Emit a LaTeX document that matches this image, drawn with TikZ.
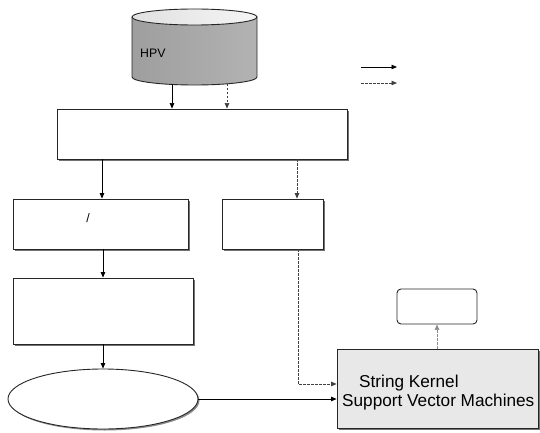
\documentclass[tikz,border=0pt]{standalone}
\usepackage{fontspec}
\setmainfont{Liberation Sans}
\usetikzlibrary{arrows.meta,shadows,shapes.geometric}

\tikzset{
  boxshadow/.style={drop shadow={shadow xshift=2pt,shadow yshift=-2pt,fill=black!55,opacity=1}},
  procbox/.style={draw=black!85,line width=0.9pt,fill=white,rectangle,inner sep=0pt,boxshadow},
  ovalbox/.style={draw=black!85,line width=0.9pt,fill=white,ellipse,inner sep=0pt,
    drop shadow={shadow xshift=1.5pt,shadow yshift=-1.5pt,fill=black!45,opacity=1}},
  resultbox/.style={draw=black!85,line width=0.9pt,fill=white,rectangle,rounded corners=4pt,inner sep=0pt},
  classbox/.style={draw=black!85,line width=0.9pt,fill=black!9,rectangle,inner sep=0pt,boxshadow},
  tip/.style={-{Triangle[length=5.5pt,width=4.5pt]}},
  flow/.style={tip,draw=black,line width=0.7pt},
  dflow/.style={tip,draw=black!75,line width=0.7pt,dash pattern=on 2.5pt off 1.5pt},
  lflow/.style={tip,draw=black!45,line width=0.7pt,dash pattern=on 2.5pt off 1.5pt},
  txt/.style={inner sep=0pt,font=\fontsize{12.3}{14}\selectfont},
  bigtxt/.style={inner sep=0pt,font=\fontsize{17.2}{19}\selectfont},
}

\begin{document}
\begin{tikzpicture}[x=1pt,y=-1pt]
\useasboundingbox (0,0) rectangle (540,433);

% database cylinder
\shade[left color=black!38,middle color=black!8,right color=black!30]
  (132,17) -- (132,77) arc[start angle=180,end angle=360,x radius=62.5pt,y radius=8pt]
  -- (257,17) arc[start angle=0,end angle=180,x radius=62.5pt,y radius=8pt] -- cycle;
\draw[black!85,line width=0.9pt]
  (132,17) -- (132,77) arc[start angle=180,end angle=360,x radius=62.5pt,y radius=8pt]
  -- (257,17);
\shade[left color=black!12,right color=black!4,draw=black!85,line width=0.9pt]
  (194.5,17) ellipse[x radius=62.5pt,y radius=8pt];
\node[inner sep=0pt,minimum width=125pt,minimum height=76pt] (hpv) at (194.5,47) {};
\node[txt,anchor=west] (hpvlabel) at (140,53) {HPV};

% legend
\coordinate (legA1) at (361,67);
\coordinate (legA2) at (397,67);
\coordinate (legB1) at (361,83);
\coordinate (legB2) at (397,83);
\draw[flow] (legA1) -- (legA2);
\draw[dflow] (legB1) -- (legB2);

% process boxes
\node[procbox,minimum width=290pt,minimum height=50pt] (main) at (202,134) {};
\node[procbox,minimum width=175pt,minimum height=50pt] (boxA) at (100.5,224) {};
\node[txt] (slash) at (88,218) {/};
\node[procbox,minimum width=101pt,minimum height=50pt] (boxB) at (272.5,224) {};
\node[procbox,minimum width=180pt,minimum height=66pt] (boxC) at (103,311) {};
\node[ovalbox,minimum width=190pt,minimum height=60pt] (oval) at (103,399) {};
\node[classbox,minimum width=201pt,minimum height=79pt] (svm) at (437.5,388.5) {};
\node[bigtxt,anchor=base west] (svmA) at (359,387) {String Kernel};
\node[bigtxt,anchor=base west] (svmB) at (342,406) {Support Vector Machines};
\node[resultbox,minimum width=80pt,minimum height=35pt] (result) at (437,306.5) {};

% connectors
\coordinate (c1) at (172,84.5);
\coordinate (c2) at (227,84);
\draw[flow] (c1) -- (c1 |- main.north);
\draw[dflow] (c2) -- (c2 |- main.north);

\coordinate (c3) at (102,0);
\draw[flow] (c3 |- main.south) -- (c3 |- boxA.north);
\coordinate (c4) at (297,0);
\draw[dflow] (c4 |- main.south) -- (c4 |- boxB.north);

\coordinate (c5) at (103,0);
\draw[flow] (c5 |- boxA.south) -- (c5 |- boxC.north);
\draw[flow] (boxC.south) -- (oval.north);

\coordinate (c6) at (0,399);
\draw[flow] (oval.east) -- (svm.west |- c6);

\coordinate (c7) at (298,384);
\draw[dflow] (c7 |- boxB.south) -- (c7) -- (svm.west |- c7);

\draw[lflow] (svm.north -| result.south) -- (result.south);
\end{tikzpicture}
\end{document}
